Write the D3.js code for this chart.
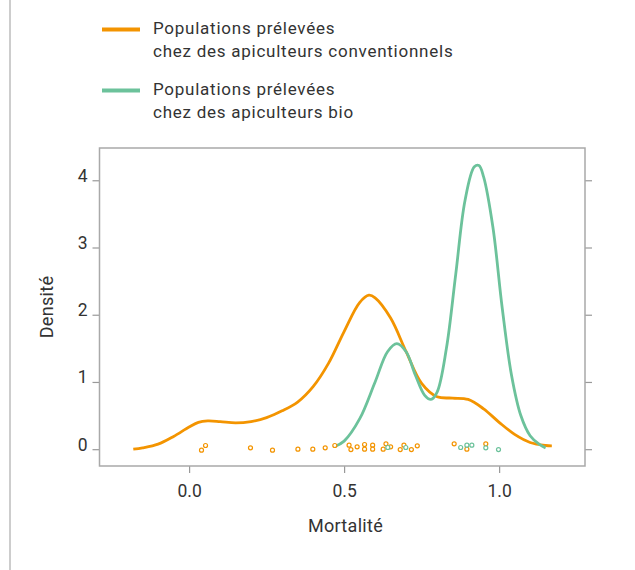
<!DOCTYPE html>
<html><head><meta charset="utf-8">
<script src="https://cdn.jsdelivr.net/npm/d3@7"></script>
<style>
body{margin:0;background:#fff;}
svg{display:block;font-family:Roboto,"Noto Sans",sans-serif;}
</style></head>
<body><svg id="c" width="635" height="570"></svg>
<script>
// ---- data ----
const seriesNames = ["Populations prélevées\nchez des apiculteurs conventionnels", "Populations prélevées\nchez des apiculteurs bio"];
const seriesColors = ["#f39400", "#6cc29b"];
const xTicks = [0, 0.5, 1];
const xTickLabels = ["0.0", "0.5", "1.0"];
const yTicks = [0, 1, 2, 3, 4];
const xTitle = "Mortalité";
const yTitle = "Densité";

// density curve (conventional)
const convX = [-0.18,-0.15,-0.10,-0.05,0.00,0.03,0.06,0.10,0.15,0.20,0.25,0.30,0.35,0.40,0.45,0.50,0.55,0.58,0.60,0.65,0.70,0.75,0.80,0.85,0.90,0.95,1.00,1.05,1.10,1.15,1.17];
const convY = [0.00,0.02,0.075,0.19,0.33,0.40,0.42,0.41,0.39,0.41,0.47,0.57,0.70,0.93,1.28,1.75,2.18,2.29,2.25,1.95,1.45,0.98,0.78,0.76,0.74,0.60,0.40,0.22,0.10,0.055,0.05];
// density curve (bio)
const bioX = [0.47,0.50,0.55,0.60,0.64,0.67,0.70,0.73,0.76,0.78,0.80,0.83,0.86,0.89,0.92,0.935,0.95,0.98,1.01,1.04,1.07,1.10,1.13,1.15];
const bioY = [0.04,0.12,0.45,1.0,1.45,1.57,1.45,1.1,0.8,0.74,0.85,1.5,2.6,3.7,4.2,4.22,4.05,3.3,2.1,1.1,0.5,0.2,0.07,0.02];

// observations (mortality, jittered density position)
const convPtsX = [0.040,0.053,0.198,0.269,0.351,0.399,0.439,0.470,0.516,0.522,0.542,0.566,0.566,0.592,0.592,0.626,0.635,0.650,0.681,0.693,0.717,0.736,0.855,0.896,0.957];
const convPtsY = [-0.015,0.055,0.02,-0.015,0,0,0.02,0.055,0.06,-0.005,0.035,0.07,0,0.06,0,0,0.08,0.035,-0.005,0.06,-0.005,0.05,0.08,0,0.08];
const bioPtsX = [0.641,0.699,0.876,0.896,0.912,0.957,0.998];
const bioPtsY = [0.025,0.025,0.025,0.06,0.06,0.02,-0.005];

// ---- chart ----
const svg = d3.select("#c");
const x = d3.scaleLinear().domain([-0.289, 1.277]).range([99.5, 585]);
const y = d3.scaleLinear().domain([-0.25, 4.48]).range([466, 148]);
const frame = "#a9a9a9", txt = "#333";

svg.append("line").attr("x1",10).attr("x2",10).attr("y1",0).attr("y2",570)
  .attr("stroke","#bdbdbd").attr("stroke-width",1.5);

// axes
const gx = svg.append("g").attr("transform","translate(0,466)")
  .call(d3.axisBottom(x).tickValues(xTicks).tickFormat((d,i)=>xTickLabels[i]).tickSize(7).tickPadding(12));
const gy = svg.append("g").attr("transform","translate(99.5,0)")
  .call(d3.axisLeft(y).tickValues(yTicks).tickFormat(d3.format("d")).tickSize(7).tickPadding(5));
const gr = svg.append("g").attr("transform","translate(585,0)")
  .call(d3.axisRight(y).tickValues(yTicks).tickFormat("").tickSize(7));
[gx,gy,gr].forEach(g=>{
  g.select(".domain").remove();
  g.selectAll(".tick line").attr("stroke","#999").attr("stroke-width",1.2);
  g.selectAll("text").attr("fill",txt).attr("font-size",17.5).attr("font-family","Roboto");
});
gy.selectAll("text").attr("dy","0.05em");

svg.append("rect").attr("x",99.5).attr("y",148).attr("width",485.5).attr("height",318)
  .attr("fill","none").attr("stroke",frame).attr("stroke-width",1.5);

// curves
const line = d3.line().x(d=>x(d[0])).y(d=>y(d[1])).curve(d3.curveCatmullRom.alpha(0.5));
const curves = [d3.zip(convX,convY), d3.zip(bioX,bioY)];
svg.selectAll("path.dens").data(curves).join("path").attr("class","dens")
  .attr("d",line).attr("fill","none").attr("stroke",(d,i)=>seriesColors[i])
  .attr("stroke-width",2.8).attr("stroke-linejoin","round");

// points
const pts = [d3.zip(convPtsX,convPtsY).map(p=>[...p,0]), d3.zip(bioPtsX,bioPtsY).map(p=>[...p,1])].flat();
svg.selectAll("circle.pt").data(pts).join("circle").attr("class","pt")
  .attr("cx",d=>x(d[0])).attr("cy",d=>y(d[1])).attr("r",2)
  .attr("fill","#fff").attr("stroke",d=>seriesColors[d[2]]).attr("stroke-width",1.2);

// axis titles
svg.append("text").attr("x",345.5).attr("y",532).attr("text-anchor","middle")
  .attr("font-size",18).attr("letter-spacing",0.3).attr("fill",txt).text(xTitle);
svg.append("text").attr("transform","translate(52.5,307) rotate(-90)").attr("text-anchor","middle")
  .attr("font-size",18).attr("letter-spacing",0.3).attr("fill",txt).text(yTitle);

// legend
const leg = svg.append("g");
seriesNames.forEach((name,i)=>{
  const g = leg.append("g").attr("transform",`translate(0,${i*61})`);
  g.append("line").attr("x1",102).attr("x2",140).attr("y1",29.5).attr("y2",29.5)
    .attr("stroke",seriesColors[i]).attr("stroke-width",4);
  name.split("\n").forEach((t,j)=>{
    g.append("text").attr("x",153).attr("y",34+j*22.5).attr("font-size",17)
      .attr("letter-spacing",0.75).attr("fill",txt).text(t);
  });
});
</script></body></html>
